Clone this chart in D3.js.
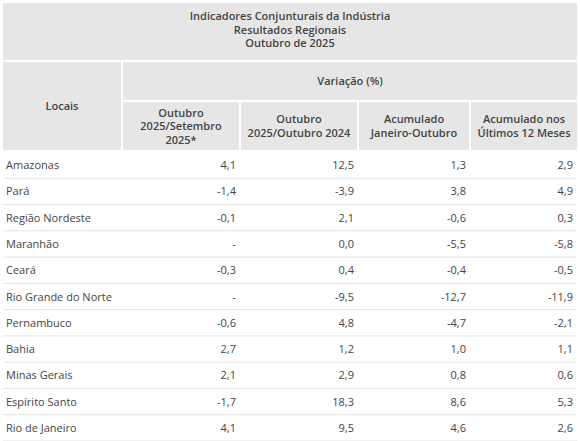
<!DOCTYPE html><html><head><meta charset="utf-8"><script src="https://cdn.jsdelivr.net/npm/d3@7"></script>
<style>body{margin:0;background:#fff}</style></head><body><svg id="c" width="580" height="441"></svg>
<script>
const titleLines=["Indicadores Conjunturais da Indústria","Resultados Regionais","Outubro de 2025"];
const groupHeader="Variação (%)";
const rowHeader="Locais";
const columns=[["Outubro","2025/Setembro","2025*"],["Outubro","2025/Outubro 2024"],["Acumulado","Janeiro-Outubro"],["Acumulado nos","Últimos 12 Meses"]];
const locais=["Amazonas","Pará","Região Nordeste","Maranhão","Ceará","Rio Grande do Norte","Pernambuco","Bahia","Minas Gerais","Espírito Santo","Rio de Janeiro"];
const mesSet=["4,1","-1,4","-0,1","-","-0,3","-","-0,6","2,7","2,1","-1,7","4,1"];
const mesAno=["12,5","-3,9","2,1","0,0","0,4","-9,5","4,8","1,2","2,9","18,3","9,5"];
const acumAno=["1,3","3,8","-0,6","-5,5","-0,4","-12,7","-4,7","1,0","0,8","8,6","4,6"];
const acum12=["2,9","4,9","0,3","-5,8","-0,5","-11,9","-2,1","1,1","0,6","5,3","2,6"];
const series=[mesSet,mesAno,acumAno,acum12];
const svg=d3.select("#c"),F="'Open Sans',sans-serif",hdr="#e6e6e6",tc="#444";
const xb=[3,122,240,358,470,577];
const t=svg.append("g").attr("font-family",F).attr("font-size",11).attr("fill",tc);
svg.insert("rect","g").attr("x",3).attr("y",3).attr("width",574).attr("height",57).attr("fill",hdr);
titleLines.forEach((l,i)=>t.append("text").attr("x",290).attr("y",20+i*13.5).attr("text-anchor","middle").attr("font-weight",600).text(l));
svg.insert("rect","g").attr("x",3).attr("y",62).attr("width",118).attr("height",88).attr("fill",hdr);
svg.insert("rect","g").attr("x",123).attr("y",62).attr("width",454).attr("height",38).attr("fill",hdr);
t.append("text").attr("x",62).attr("y",110).attr("text-anchor","middle").attr("font-weight",600).text(rowHeader);
t.append("text").attr("x",350).attr("y",85).attr("text-anchor","middle").attr("font-weight",600).text(groupHeader);
columns.forEach((c,i)=>{const x0=xb[i+1]+1,x1=xb[i+2]-(i<3?1:0);
 svg.insert("rect","g").attr("x",x0).attr("y",102).attr("width",x1-x0).attr("height",48).attr("fill",hdr);
 const cy=126,n=c.length;
 c.forEach((l,j)=>t.append("text").attr("x",(x0+x1)/2).attr("y",cy+4+(j-(n-1)/2)*13.5).attr("text-anchor","middle").attr("font-weight",600).text(l));});
const y=d3.scaleBand().domain(locais).range([152,441]);
locais.forEach((l,i)=>{const yy=y(l);
 svg.insert("line","g").attr("x1",3).attr("x2",577).attr("y1",yy+y.bandwidth()).attr("y2",yy+y.bandwidth()).attr("stroke","#e3e3e3");
 t.append("text").attr("x",6).attr("y",yy+y.bandwidth()/2+4).text(l);
 series.forEach((s,k)=>t.append("text").attr("x",xb[k+2]-4).attr("y",yy+y.bandwidth()/2+4).attr("text-anchor","end").text(s[i]));});
</script></body></html>
